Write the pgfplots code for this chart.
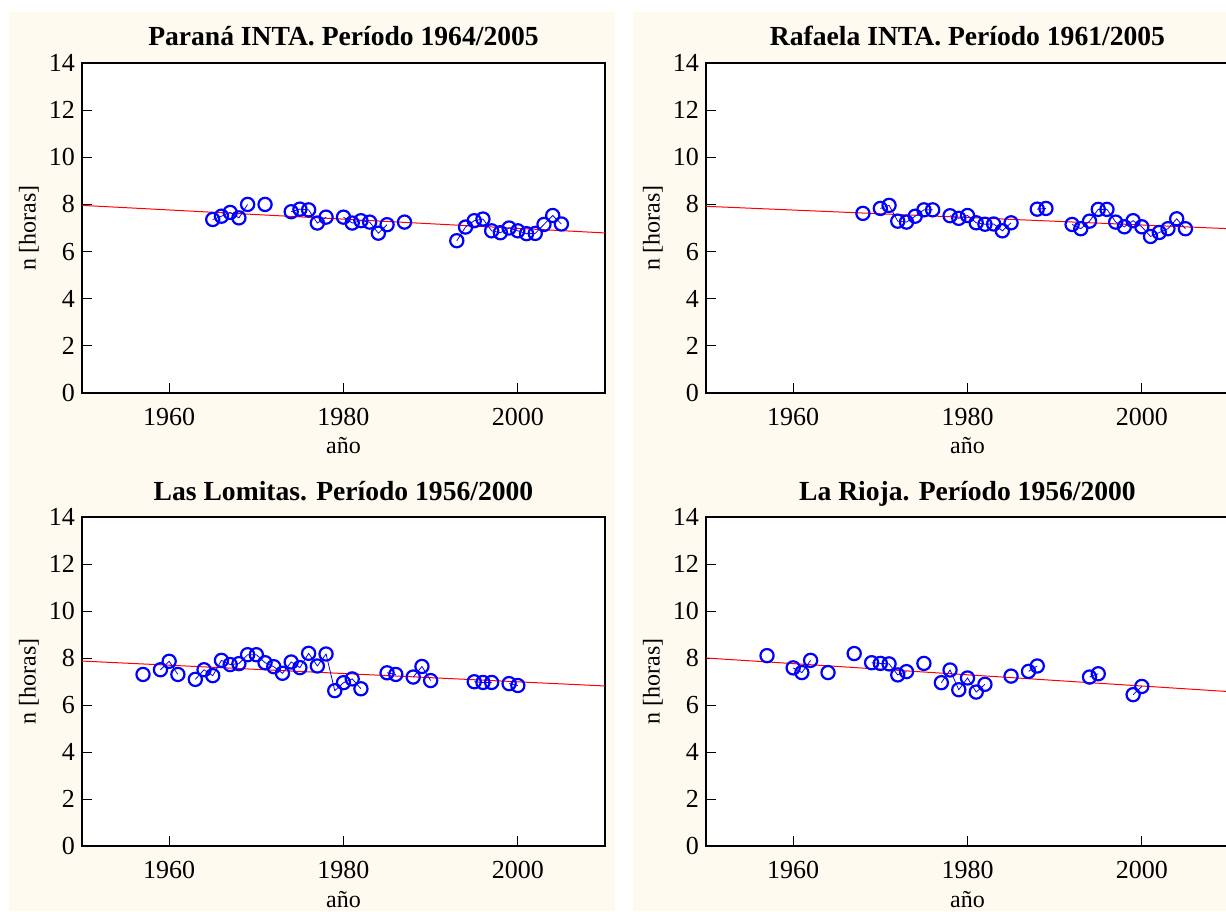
\documentclass[border=0pt]{standalone}
\usepackage{fontspec}
\setmainfont{Liberation Serif}
\usepackage{pgfplots}
\pgfplotsset{compat=1.18}
\definecolor{cream}{RGB}{254,250,239}

\pgfplotsset{
  panel/.style={
    scale only axis, anchor=south west,
    width=261.5pt, height=165pt,
    xmin=1950, xmax=2010, ymin=0, ymax=14,
    xtick={1960,1980,2000}, xticklabels={1960,1980,2000},
    ytick={0,2,4,6,8,10,12,14}, yticklabels={0,2,4,6,8,10,12,14},
    tick pos=left, tick align=inside,
    major tick length=5pt,
    every tick/.style={black, line width=0.5pt},
    axis line style={line width=0.6pt},
    axis background/.style={fill=white},
    tick label style={font=\rmfamily\fontsize{13}{14}\selectfont},
    x tick label style={yshift=-4pt},
    title style={at={(0.5,1)}, anchor=base, yshift=2.5pt, font=\rmfamily\fontsize{13.8}{15}\selectfont\bfseries},
    xlabel={año}, ylabel={n [horas]},
    label style={font=\rmfamily\fontsize{12}{13}\selectfont},
    xlabel style={at={(axis description cs:0.5,0)}, anchor=base, yshift=-30.5pt},
    ylabel style={at={(axis description cs:0,0.5)}, anchor=center, rotate=0, yshift=26.5pt},
    unbounded coords=jump,
  },
  obs/.style={blue, line width=0.4pt, mark=o, mark size=3.3pt,
    mark options={line width=1.1pt, solid}},
  trend/.style={red, line width=0.5pt, no marks},
}

\begin{document}
\begin{tikzpicture}
\fill[cream] (4.5pt,0pt) rectangle (307.5pt,449.5pt);
\fill[cream] (316.5pt,0pt) rectangle (613pt,449.5pt);

% Parana
\begin{axis}[panel, at={(41pt,259pt)}, title={Paraná INTA. Período 1964/2005}]
\addplot[trend] coordinates {(1950,7.96) (2010,6.79)};
\addplot[obs] coordinates {
(1965,7.36) (1966,7.50) (1967,7.66) (1968,7.43) (1969,8.00) (1970,nan)
(1971,8.00) (1972,nan)
(1974,7.69) (1975,7.80) (1976,7.77) (1977,7.21) (1978,7.46) (1979,nan)
(1980,7.46) (1981,7.21) (1982,7.31) (1983,7.25) (1984,6.78) (1985,7.14) (1986,nan)
(1987,7.25) (1988,nan)
(1993,6.46) (1994,7.04) (1995,7.31) (1996,7.38) (1997,6.88) (1998,6.80)
(1999,7.00) (2000,6.88) (2001,6.76) (2002,6.77) (2003,7.15) (2004,7.53) (2005,7.17)
};
\end{axis}

% Rafaela
\begin{axis}[panel, at={(353pt,259pt)}, title={Rafaela INTA. Período 1961/2005}]
\addplot[trend] coordinates {(1950,7.92) (2010,6.97)};
\addplot[obs] coordinates {
(1968,7.62) (1969,nan)
(1970,7.83) (1971,7.96) (1972,7.29) (1973,7.25) (1974,7.50) (1975,7.77) (1976,7.77) (1977,nan)
(1978,7.52) (1979,7.41) (1980,7.53) (1981,7.22) (1982,7.16) (1983,7.17) (1984,6.88) (1985,7.22) (1986,nan)
(1988,7.80) (1989,7.83) (1990,nan)
(1992,7.15) (1993,6.97) (1994,7.29) (1995,7.79) (1996,7.79) (1997,7.25) (1998,7.05)
(1999,7.31) (2000,7.05) (2001,6.64) (2002,6.81) (2003,6.97) (2004,7.39) (2005,6.97)
};
\end{axis}

% Las Lomitas
\begin{axis}[panel, at={(41pt,32.5pt)}, height=164.5pt, title={Las Lomitas. Período 1956/2000}]
\addplot[trend] coordinates {(1950,7.87) (2010,6.81)};
\addplot[obs] coordinates {
(1957,7.30) (1958,nan)
(1959,7.50) (1960,7.86) (1961,7.30) (1962,nan)
(1963,7.09) (1964,7.50) (1965,7.25) (1966,7.90) (1967,7.72) (1968,7.76) (1969,8.14)
(1970,8.14) (1971,7.80) (1972,7.63) (1973,7.35) (1974,7.83) (1975,7.59) (1976,8.20)
(1977,7.66) (1978,8.17) (1979,6.61) (1980,6.95) (1981,7.11) (1982,6.69) (1983,nan)
(1985,7.37) (1986,7.30) (1987,nan)
(1988,7.19) (1989,7.64) (1990,7.04) (1991,nan)
(1995,6.99) (1996,6.96) (1997,6.96) (1998,nan)
(1999,6.91) (2000,6.83)
};
\end{axis}

% La Rioja
\begin{axis}[panel, at={(353pt,32.5pt)}, height=164.5pt, title={La Rioja. Período 1956/2000}]
\addplot[trend] coordinates {(1950,8.00) (2010,6.57)};
\addplot[obs] coordinates {
(1957,8.10) (1958,nan)
(1960,7.58) (1961,7.38) (1962,7.90) (1963,nan)
(1964,7.38) (1965,nan)
(1967,8.19) (1968,nan)
(1969,7.80) (1970,7.77) (1971,7.75) (1972,7.28) (1973,7.42) (1974,nan)
(1975,7.77) (1976,nan)
(1977,6.95) (1978,7.49) (1979,6.65) (1980,7.15) (1981,6.55) (1982,6.88) (1983,nan)
(1985,7.23) (1986,nan)
(1987,7.43) (1988,7.66) (1989,nan)
(1994,7.19) (1995,7.33) (1996,nan)
(1999,6.44) (2000,6.79)
};
\end{axis}

\pgfresetboundingbox
\useasboundingbox (0pt,0pt) rectangle (613pt,455.5pt);
\end{tikzpicture}
\end{document}
